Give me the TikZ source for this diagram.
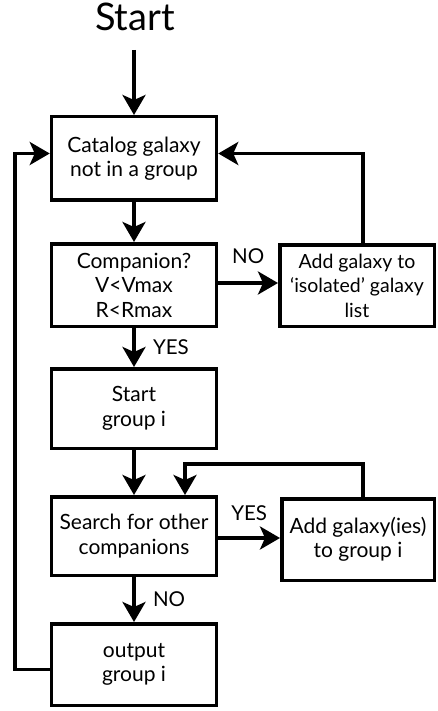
\documentclass[tikz,border=0pt]{standalone}
\usepackage{fontspec}
\setmainfont{Lato}
\usetikzlibrary{arrows.meta,positioning}

\begin{document}
\begin{tikzpicture}[x=1pt, y=-1pt,
        box/.style={draw, line width=3.5pt, inner sep=1pt, minimum width=165pt,
                align=center, font=\fontsize{21}{24.5}\selectfont},
        flow/.style={line width=3.5pt, -{Stealth[length=20pt, width=23pt, inset=5pt]}},
        lab/.style={font=\fontsize{20.5}{23}\selectfont}]
        \useasboundingbox (0, 0) rectangle (437, 711);
        % boxes of the main column
        \node[font=\fontsize{38}{44}\selectfont] (start) at (135, 17) {Start};
        \node[box, minimum height=83.5pt] (cat) at (134, 158.5) {Catalog galaxy\\not in a group};
        \node[box, minimum height=82.5pt] (comp) at (134, 285) {Companion?\\V<Vmax\\R<Rmax};
        \node[box, minimum height=79.5pt] (newgrp) at (134, 408.5) {Start\\group i};
        \node[box, minimum height=78.5pt] (search) at (134, 536) {Search for other\\companions};
        \node[box, minimum height=81.5pt] (out) at (134, 664.5) {output\\group i};
        % boxes on the right
        \node[box, minimum width=154.5pt, minimum height=81.5pt,
                font=\fontsize{19.5}{24.5}\selectfont] (isol) at (357, 285.5)
                {Add galaxy to\\‘isolated’ galaxy\\list};
        \node[box, minimum width=152.5pt, minimum height=81.5pt] (addgrp) at (358, 539.5)
                {Add galaxy(ies)\\to group i};
        \coordinate (s0) at (134, 50);
        % connectors
        \draw[flow] (s0) -- (cat);
        \draw[flow] (cat) -- (comp);
        \draw[flow] ([yshift=2pt]comp.east) -- ([yshift=2pt]comp.east -| isol.west)
                node[lab, midway, above=14pt] {NO};
        \draw[flow] ([xshift=6pt]isol.north) |- ([yshift=5pt]cat.east);
        \draw[flow] (comp) -- (newgrp) node[lab, midway, right=14pt] {YES};
        \draw[flow] (newgrp) -- (search);
        \draw[flow] ([xshift=5pt]addgrp.north) |- ([xshift=51pt, yshift=31pt]search.north)
                -- ([xshift=51pt]search.north);
        \draw[flow] ([yshift=-2pt]search.east) -- ([yshift=-2pt]search.east -| addgrp.west)
                node[lab, midway, above=12pt] {YES};
        \draw[flow] (search) -- (out) node[lab, midway, right=14pt] {NO};
        \draw[flow] ([yshift=-5pt]out.west) -- ++(-35, 0) |- ([yshift=5pt]cat.west);
\end{tikzpicture}
\end{document}
